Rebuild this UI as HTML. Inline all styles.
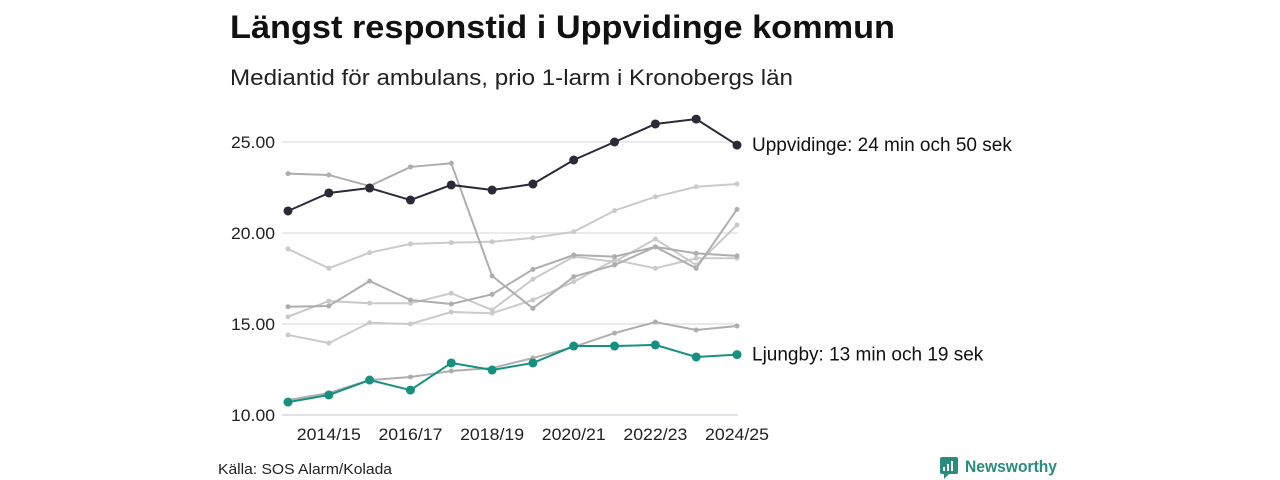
<!DOCTYPE html>
<html><head><meta charset="utf-8"><style>
body{margin:0;width:1280px;height:480px;background:#fff;overflow:hidden;font-family:"Liberation Sans",sans-serif}
svg{position:absolute;left:0;top:0}
</style></head><body>
<svg width="1280" height="480" id="c">
<text x="230" y="38" font-size="32" font-weight="bold" fill="#111" textLength="665" lengthAdjust="spacingAndGlyphs">Längst responstid i Uppvidinge kommun</text>
<text x="230" y="85" font-size="22" fill="#222" textLength="563" lengthAdjust="spacingAndGlyphs">Mediantid för ambulans, prio 1-larm i Kronobergs län</text>
<text x="218" y="474" font-size="15" fill="#222" textLength="174" lengthAdjust="spacingAndGlyphs">Källa: SOS Alarm/Kolada</text>
<g>
<rect x="940" y="457" width="18" height="17" rx="2" fill="#2a8c7d"/>
<path d="M944 474 L944 479 L949 474Z" fill="#2a8c7d"/>
<rect x="943" y="467" width="2" height="4" fill="#fff"/><rect x="947" y="464" width="2" height="7" fill="#fff"/><rect x="951" y="461" width="2" height="10" fill="#fff"/>
<text x="965" y="472" font-size="17" font-weight="bold" fill="#2a8c7d" textLength="92" lengthAdjust="spacingAndGlyphs">Newsworthy</text>
</g>
<g id="plot"></g>
</svg>
<script>
const categories=["2013/14","2014/15","2015/16","2016/17","2017/18","2018/19","2019/20","2020/21","2021/22","2022/23","2023/24","2024/25"];
const yTicks=[10,15,20,25];
const uppvidinge=[21.21,22.2,22.47,21.81,22.64,22.36,22.69,24.01,25.0,25.99,26.26,24.83];
const ljungby=[10.71,11.1,11.92,11.37,12.86,12.47,12.86,13.79,13.79,13.85,13.19,13.32];
const greyA=[23.26,23.19,22.58,23.63,23.83,17.64,15.86,17.6,18.24,19.24,18.06,21.3];
const greyB=[19.12,18.06,18.92,19.4,19.47,19.52,19.73,20.07,21.23,21.99,22.54,22.69];
const greyC=[15.95,15.99,17.36,16.32,16.1,16.63,18.0,18.79,18.7,19.24,18.88,18.74];
const greyD=[15.4,16.26,16.14,16.14,16.69,15.77,17.46,18.7,18.42,19.67,18.24,20.44];
const greyE=[14.4,13.95,15.07,15.0,15.66,15.59,16.32,17.32,18.52,18.06,18.61,18.61];
const greyF=[10.82,11.21,11.92,12.09,12.42,12.58,13.13,13.74,14.5,15.11,14.67,14.89];
const labels=["Uppvidinge: 24 min och 50 sek","Ljungby: 13 min och 19 sek"];
const NS="http://www.w3.org/2000/svg";
const g=document.getElementById('plot');
const x=i=>288+i*(737-288)/(categories.length-1);
const y=v=>415-(v-10)*(415-142)/15;
function el(t,a){const e=document.createElementNS(NS,t);for(const k in a)e.setAttribute(k,a[k]);g.appendChild(e);return e;}
yTicks.forEach(t=>{
 const l=el('line',{x1:282,x2:738,y1:y(t),y2:y(t),stroke:t===10?'#d8d8e0':'#e2e2e8','stroke-width':1.5});
 
 
 const tx=el('text',{x:275,y:y(t)+6,'font-size':17,'text-anchor':'end',fill:'#222',textLength:44,lengthAdjust:'spacingAndGlyphs'});tx.textContent=t.toFixed(2);
 
 
});
categories.forEach((c,i)=>{if(i%2===1){
 const tx=el('text',{x:x(i),y:440,'font-size':17,'text-anchor':'middle',fill:'#222',textLength:64,lengthAdjust:'spacingAndGlyphs'});tx.textContent=c;
 
 
}});
function series(d,col,w,r,name){
 const p=el('polyline',{points:d.map((v,i)=>x(i)+','+y(v)).join(' '),fill:'none',stroke:col,'stroke-width':w});
 
 
 d.forEach((v,i)=>{const c=el('circle',{cx:x(i),cy:y(v),r:r,fill:col});
  
  });
}
series(greyB,'#cacaca',2,2.5,'municipality-b');
series(greyD,'#cacaca',2,2.5,'municipality-d');
series(greyE,'#cacaca',2,2.5,'municipality-e');
series(greyA,'#aeaeae',2,2.5,'municipality-a');
series(greyC,'#aeaeae',2,2.5,'municipality-c');
series(greyF,'#aeaeae',2,2.5,'municipality-f');
series(ljungby,'#16907f',2,4.5,'ljungby');
series(uppvidinge,'#2b2a38',2,4.5,'uppvidinge');
[[uppvidinge,labels[0]],[ljungby,labels[1]]].forEach(([d,t],k)=>{
 const tx=el('text',{x:752,y:y(d[d.length-1])+6,'font-size':19,fill:'#111'});tx.textContent=t;
 
 
});
</script>
</body></html>
